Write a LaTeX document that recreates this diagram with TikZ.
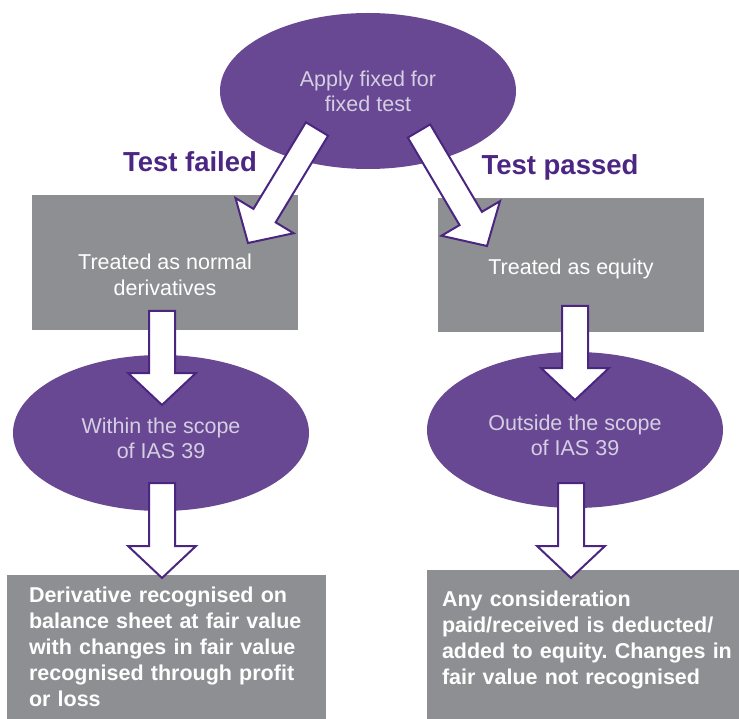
\documentclass[tikz,border=0pt]{standalone}
\usepackage{fontspec}
\setmainfont{Liberation Sans}
\usetikzlibrary{shapes.geometric,calc}
\frenchspacing
\definecolor{ovalpurple}{RGB}{104,72,146}
\definecolor{ovaltext}{RGB}{214,206,226}
\definecolor{boxgray}{RGB}{142,143,147}
\definecolor{labelpurple}{RGB}{76,38,131}
\definecolor{arrowpurple}{RGB}{74,38,128}
\tikzset{
  oval/.style={ellipse, fill=ovalpurple, text=ovaltext, minimum width=296, minimum height=156,
    inner sep=0, align=center, font=\fontsize{21.5}{25}\selectfont},
  graybox/.style={rectangle, fill=boxgray, text=white, inner sep=0, align=center,
    font=\fontsize{21.5}{26}\selectfont},
  notebox/.style={rectangle, fill=boxgray, text=white, inner sep=0, align=left,
    font=\bfseries\fontsize{21.5}{26}\selectfont},
  testlabel/.style={text=labelpurple, inner sep=0, font=\bfseries\fontsize{27.5}{30}\selectfont},
  blockarrow/.style={fill=white, draw=arrowpurple, line width=2pt, line join=miter},
}
% invisible rule to push text down
\newcommand{\pushdown}[1]{\rule{0pt}{#1}}
% block arrow from tail #1 to tip #2
\newcommand{\blockarrow}[2]{%
  \path ($(#2)!32pt!(#1)$) coordinate (head);
  \filldraw[blockarrow] ($(#1)!13pt!90:(#2)$) -- ($(head)!13pt!90:(#2)$)
    -- ($(head)!34pt!90:(#2)$) -- (#2) -- ($(head)!34pt!-90:(#2)$)
    -- ($(head)!13pt!-90:(#2)$) -- ($(#1)!13pt!-90:(#2)$) -- cycle;
}
\begin{document}
\begin{tikzpicture}[x=1pt,y=-1pt]
\useasboundingbox (0,0) rectangle (739,719);
% Draw top oval
\node[oval] (apply) at (368,91) {Apply fixed for\\fixed test};
% Draw middle boxes
\node[graybox, minimum width=266, minimum height=135] (normal) at (165,262.5)
  {\pushdown{41pt}Treated as normal\\derivatives};
\node[graybox, minimum width=266, minimum height=134] (equity) at (571,265)
  {\pushdown{24pt}Treated as equity};
% Draw lower ovals
\node[oval] (within) at (161,433) {\pushdown{26pt}Within the scope\\of IAS 39};
\node[oval] (outside) at (575,430) {\pushdown{26pt}Outside the scope\\of IAS 39};
% Draw bottom boxes
\node[notebox, minimum width=319, minimum height=144, text width=275] (profit) at (166.5,647)
  {Derivative recognised on\\balance sheet at fair value\\with changes in fair value\\recognised through profit\\or loss};
\node[notebox, minimum width=324, minimum height=149, text width=294] (noprofit) at (589,644.5)
  {Any consideration\\paid/received is deducted/\\added to equity. Changes in\\fair value not recognised\rule[-14.5pt]{0pt}{0pt}};
% Draw test labels
\node[testlabel] (failed) at (190,162) {Test failed};
\node[testlabel] (passed) at (560,167) {Test passed};
% Draw arrows
\coordinate (failtail) at (317,129);
\coordinate (failtip) at (248,243);
\coordinate (passtail) at (419,131);
\coordinate (passtip) at (487,246);
\coordinate (normaltail) at (162,311);
\coordinate (normaltip) at (162,405);
\coordinate (equitytail) at (575,306);
\coordinate (equitytip) at (575,400);
\coordinate (withintail) at (162,483);
\coordinate (withintip) at (162,578);
\coordinate (outsidetail) at (571,483);
\coordinate (outsidetip) at (571,578);
\blockarrow{failtail}{failtip}
\blockarrow{passtail}{passtip}
\blockarrow{normaltail}{normaltip}
\blockarrow{equitytail}{equitytip}
\blockarrow{withintail}{withintip}
\blockarrow{outsidetail}{outsidetip}
\end{tikzpicture}
\end{document}
